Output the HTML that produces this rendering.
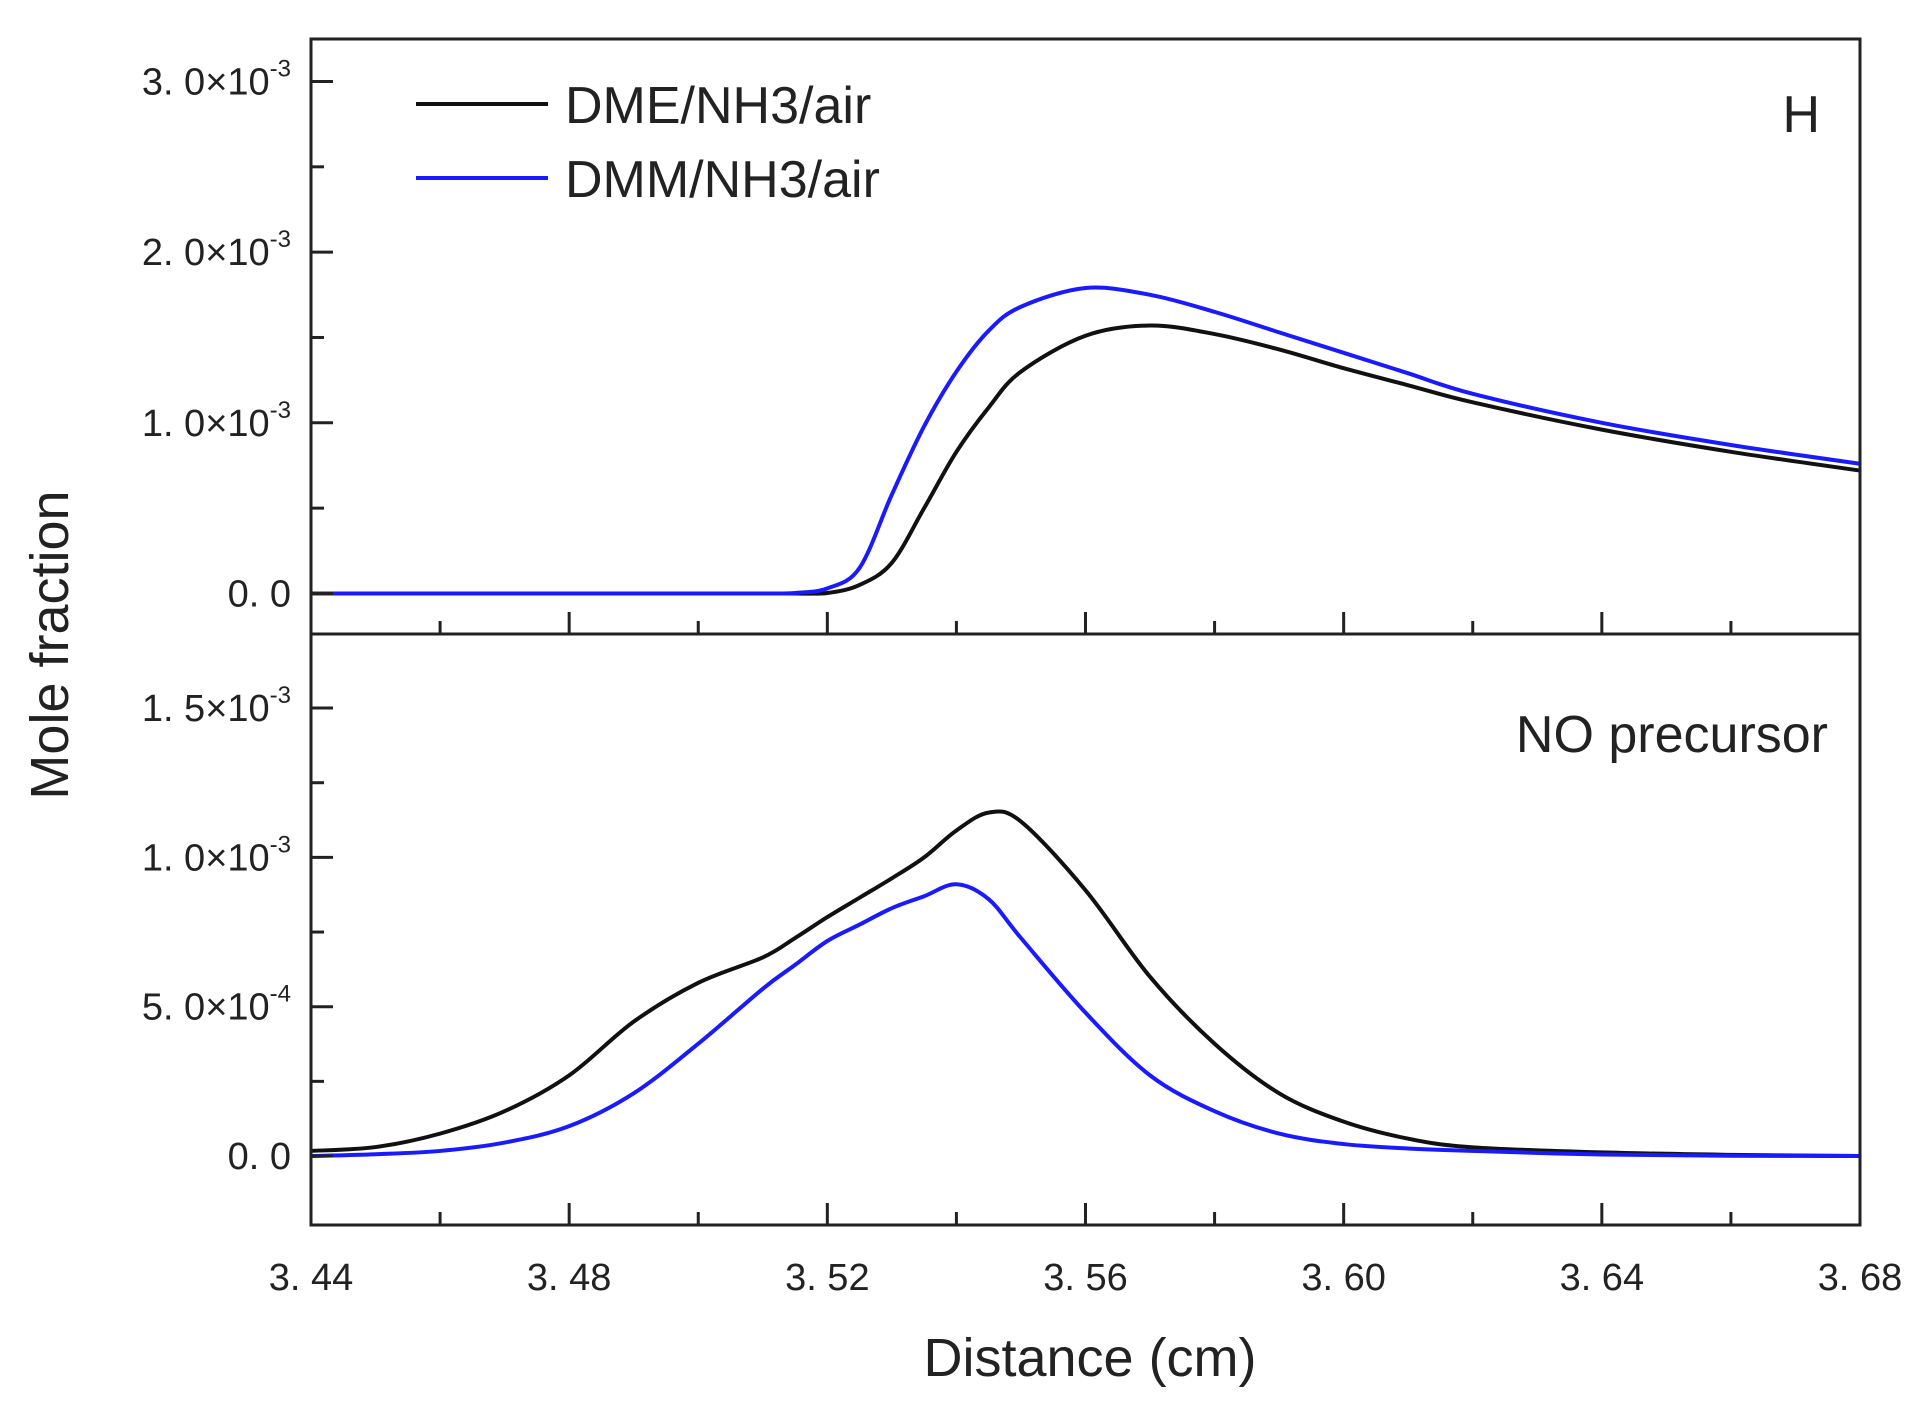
<!DOCTYPE html>
<html><head><meta charset="utf-8"><style>
html,body{margin:0;padding:0;background:#fff;}
svg text{font-family:"Liberation Sans",sans-serif;fill:#222;}
</style></head><body>
<svg id="chart" width="1927" height="1400" viewBox="0 0 1927 1400" xmlns="http://www.w3.org/2000/svg">
<g id="g"></g>
<text x="1090" y="1376" font-size="54" text-anchor="middle">Distance (cm)</text>
<text transform="translate(68,645) rotate(-90)" font-size="54" text-anchor="middle">Mole fraction</text>
<g>
<line x1="416" x2="548" y1="104" y2="104" stroke="#111" stroke-width="4"/>
<text x="565" y="123" font-size="52">DME/NH3/air</text>
<line x1="416" x2="548" y1="178" y2="178" stroke="#1a1aff" stroke-width="4"/>
<text x="565" y="197" font-size="52">DMM/NH3/air</text>
</g>
<text x="1820" y="132" font-size="52" text-anchor="end">H</text>
<text x="1828" y="752" font-size="52" text-anchor="end">NO precursor</text>
</svg>
<script>
const xVals=[3.44,3.45,3.46,3.47,3.48,3.49,3.50,3.51,3.515,3.52,3.525,3.53,3.535,3.54,3.545,3.55,3.56,3.57,3.58,3.59,3.60,3.61,3.62,3.64,3.66,3.68];
const hDME=[0,0,0,0,0,0,0,0,0,0.003,0.05,0.18,0.5,0.83,1.09,1.3,1.51,1.57,1.52,1.43,1.32,1.22,1.12,0.96,0.83,0.72];
const hDMM=[0,0,0,0,0,0,0,0,0.003,0.03,0.15,0.58,0.98,1.3,1.54,1.68,1.79,1.75,1.65,1.53,1.41,1.29,1.17,1.0,0.87,0.76];
const noDME=[0.017,0.03,0.075,0.15,0.27,0.45,0.58,0.665,0.73,0.8,0.865,0.93,1.0,1.09,1.15,1.12,0.89,0.6,0.376,0.21,0.115,0.058,0.029,0.012,0.004,0];
const noDMM=[0,0.006,0.017,0.045,0.1,0.21,0.376,0.56,0.64,0.72,0.775,0.83,0.87,0.91,0.86,0.73,0.48,0.27,0.15,0.075,0.04,0.025,0.017,0.005,0.001,0];
const xTicks=[3.44,3.48,3.52,3.56,3.60,3.64,3.68];
const xTickLabels=["3. 44","3. 48","3. 52","3. 56","3. 60","3. 64","3. 68"];
const topTicks=[0,1,2,3];
const topTickLabels=[["0. 0",""],["1. 0×10","-3"],["2. 0×10","-3"],["3. 0×10","-3"]];
const botTicks=[0,0.5,1.0,1.5];
const botTickLabels=[["0. 0",""],["5. 0×10","-4"],["1. 0×10","-3"],["1. 5×10","-3"]];

const L=311,R=1860,T=39,M=634,B=1225;
const X=v=>L+(v-3.44)/(3.68-3.44)*(R-L);
const YT=v=>M-(v-(-0.2375))/(3.249+0.2375)*(M-T);
const YB=v=>B-(v-(-0.231))/(1.748+0.231)*(B-M);
const g=document.getElementById('g');
const NS='http://www.w3.org/2000/svg';
function mk(tag,attrs,parent){const e=document.createElementNS(NS,tag);for(const k in attrs)e.setAttribute(k,attrs[k]);(parent||g).appendChild(e);return e;}
function pathD(xs,ys){const p=xs.map((x,i)=>[X(x),ys[i]]);let d='M'+p[0][0]+','+p[0][1];
 for(let i=0;i<p.length-1;i++){const p0=p[Math.max(0,i-1)],p1=p[i],p2=p[i+1],p3=p[Math.min(p.length-1,i+2)];
 const c1=[p1[0]+(p2[0]-p0[0])/6,p1[1]+(p2[1]-p0[1])/6],c2=[p2[0]-(p3[0]-p1[0])/6,p2[1]-(p3[1]-p1[1])/6];
 d+=` C${c1[0]},${c1[1]} ${c2[0]},${c2[1]} ${p2[0]},${p2[1]}`;}return d;}
const series=[[hDME,YT,'#111','h-dme-line'],[hDMM,YT,'#1a1aff','h-dmm-line'],[noDME,YB,'#111','no-dme-line'],[noDMM,YB,'#1a1aff','no-dmm-line']];
series.forEach(s=>{const e=mk('path',{d:pathD(xVals,s[0].map(s[1])),fill:'none',stroke:s[2],'stroke-width':4});

});
const f1=mk('rect',{x:L,y:T,width:R-L,height:M-T,fill:'none',stroke:'#222','stroke-width':3});


const f2=mk('rect',{x:L,y:M,width:R-L,height:B-M,fill:'none',stroke:'#222','stroke-width':3});


for(let v=3.44;v<=3.6801;v+=0.02){const maj=Math.abs(((v-3.44)/0.04)-Math.round((v-3.44)/0.04))<0.01;const len=maj?22:13;
 [M,B].forEach(y=>{const t=mk('line',{x1:X(v),x2:X(v),y1:y,y2:y-len,stroke:'#222','stroke-width':3});
 
 });}
xTicks.forEach((v,i)=>{const t=mk('text',{x:X(v),y:1290,'font-size':38,'text-anchor':'middle'});t.textContent=xTickLabels[i];

});
function yTicks(Y,majors,minorStep,maxV,labels,name){
 for(let v=0;v<=maxV+1e-6;v+=minorStep){const maj=majors.some(m=>Math.abs(m-v)<1e-6);const t=mk('line',{x1:L,x2:L+(maj?22:13),y1:Y(v),y2:Y(v),stroke:'#222','stroke-width':3});
 
 }
 majors.forEach((v,i)=>{const t=mk('text',{x:291,y:Y(v)+13,'font-size':38,'text-anchor':'end'});
 
 
 t.textContent=labels[i][0];if(labels[i][1]){const ts=mk('tspan',{'font-size':24,dy:-18},t);ts.textContent=labels[i][1];}});}
yTicks(YT,topTicks,0.5,3,topTickLabels,'top-y');
yTicks(YB,botTicks,0.25,1.5,botTickLabels,'bottom-y');
</script>
</body></html>
